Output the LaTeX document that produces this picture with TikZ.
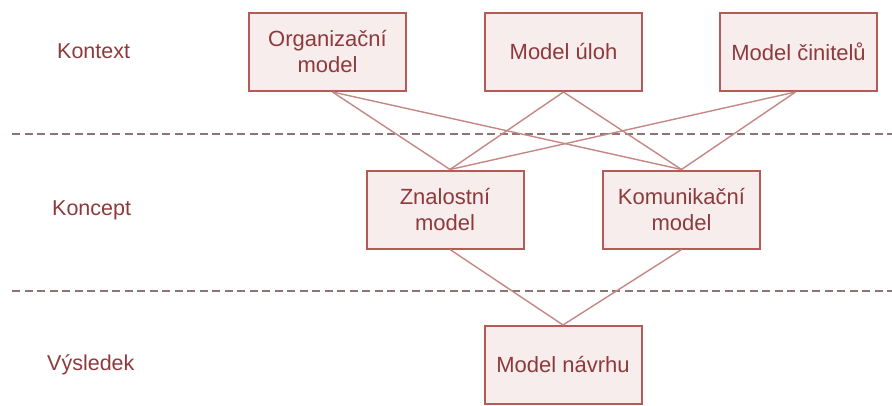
\documentclass[tikz,border=0pt]{standalone}
\usepackage{fontspec}
\setmainfont{Liberation Sans}
\usetikzlibrary{calc}
\definecolor{boxline}{HTML}{B45B58}
\definecolor{boxfill}{HTML}{F8EDED}
\definecolor{txt}{HTML}{8E3A3C}
\definecolor{link}{HTML}{C48784}
\definecolor{sep}{HTML}{8F7473}
\begin{document}
\begin{tikzpicture}[x=1pt,y=-1pt,
  modelbox/.style={draw=boxline, fill=boxfill, line width=2pt,
    minimum width=157pt, minimum height=78pt, inner sep=0pt,
    text=txt, font=\fontsize{22}{26}\selectfont, align=center},
  layer/.style={anchor=west, text=txt, font=\fontsize{21.5}{25}\selectfont, inner sep=0pt},
  link/.style={draw=link, line width=1.4pt},
  sepline/.style={draw=sep, line width=1.4pt, dash pattern=on 8pt off 4.5pt}]
\useasboundingbox (0,0) rectangle (892,405);

% layer separators
\coordinate (s1l) at (12,134);
\coordinate (s1r) at (892,134);
\coordinate (s2l) at (12,291);
\coordinate (s2r) at (892,291);
\draw[sepline] (s1l) -- (s1r);
\draw[sepline] (s2l) -- (s2r);

% layer names
\node[layer] (kontext) at (57,51) {Kontext};
\node[layer] (koncept) at (52,210) {Koncept};
\node[layer] (vysledek) at (47,365) {Výsledek};

% models
\node[modelbox] (org)    at (327.5,52)  {Organizační\\model};
\node[modelbox] (task)   at (563.5,52)  {Model úloh};
\node[modelbox] (agent)  at (798.5,52)  {Model činitelů};
\node[modelbox] (know)   at (445,209.5) {Znalostní\\model};
\node[modelbox] (comm)   at (681.5,209.5) {Komunikační\\model};
\node[modelbox] (design) at (563,365)   {Model návrhu};

% dependencies
\draw[link] ($(org.south)+(5,0)$) -- ($(know.north)+(5,0)$);
\draw[link] ($(org.south)+(5,0)$) -- (comm.north);
\draw[link] (task.south) -- ($(know.north)+(5,0)$);
\draw[link] (task.south) -- (comm.north);
\draw[link] ($(agent.south)+(-3,0)$) -- ($(know.north)+(5,0)$);
\draw[link] ($(agent.south)+(-3,0)$) -- (comm.north);
\draw[link] ($(know.south)+(5,0)$) -- (design.north);
\draw[link] (comm.south) -- (design.north);
\end{tikzpicture}
\end{document}
